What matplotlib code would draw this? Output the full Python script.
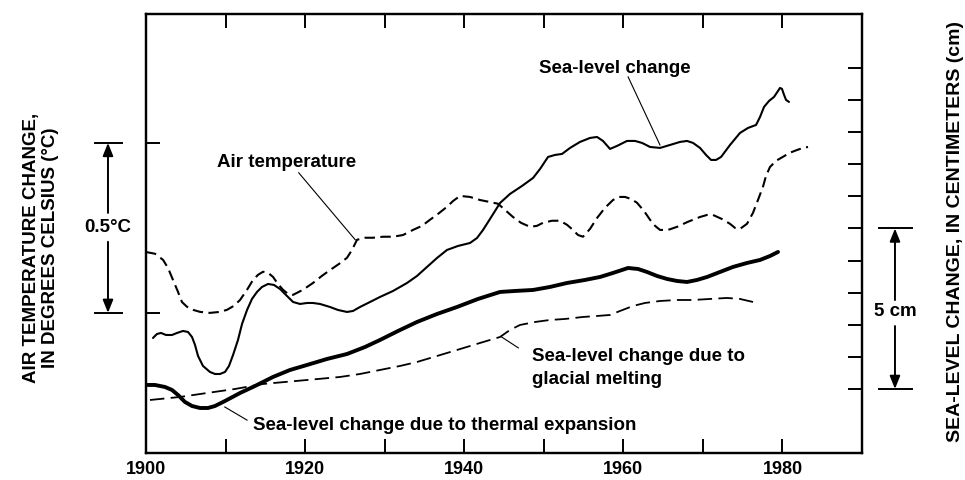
import matplotlib
matplotlib.use("Agg")
import matplotlib.pyplot as plt
from matplotlib.ticker import FixedLocator, NullFormatter

plt.rcParams['font.family'] = ['Liberation Sans', 'DejaVu Sans']
plt.rcParams['font.weight'] = 'bold'

# ---- data ----
sea_level_years = [1900.88, 1901.38, 1901.89, 1902.51, 1903.27, 1903.90, 1904.65, 1905.28, 1905.78,
                   1906.16, 1906.54, 1907.16, 1908.04, 1908.67, 1909.30, 1909.93, 1910.43, 1910.94,
                   1911.56, 1912.07, 1912.70, 1913.32, 1913.95, 1914.58, 1915.34, 1916.09, 1916.84,
                   1917.72, 1918.48, 1919.36, 1920.24, 1920.99, 1921.87, 1923.13, 1924.13, 1925.27,
                   1926.02, 1926.90, 1928.16, 1929.41, 1931.05, 1932.81, 1934.06, 1935.32, 1936.58,
                   1937.83, 1939.22, 1940.73, 1941.61, 1942.36, 1943.24, 1944.50, 1945.75, 1947.26,
                   1948.65, 1949.53, 1950.53, 1951.41, 1952.29, 1953.30, 1954.55, 1955.81, 1956.69,
                   1957.44, 1958.32, 1959.20, 1960.46, 1961.47, 1962.35, 1963.35, 1964.61, 1965.87,
                   1967.12, 1968.00, 1968.76, 1969.64, 1970.39, 1971.02, 1971.65, 1972.28, 1973.41,
                   1974.66, 1975.67, 1976.68, 1977.18, 1977.68, 1978.31, 1978.94, 1979.44, 1979.69,
                   1979.94, 1980.20, 1980.45, 1980.82]
sea_level_cm = [1.589, 1.713, 1.745, 1.682, 1.682, 1.745, 1.807, 1.776, 1.620,
                1.371, 1.028, 0.717, 0.530, 0.467, 0.467, 0.530, 0.717, 1.059,
                1.526, 2.025, 2.461, 2.804, 3.022, 3.178, 3.271, 3.240, 3.115,
                2.897, 2.710, 2.648, 2.679, 2.679, 2.648, 2.554, 2.461, 2.399,
                2.430, 2.554, 2.710, 2.866, 3.053, 3.302, 3.520, 3.801, 4.081,
                4.330, 4.455, 4.548, 4.704, 4.953, 5.296, 5.794, 6.075, 6.324,
                6.573, 6.854, 7.227, 7.290, 7.321, 7.508, 7.695, 7.819, 7.850,
                7.726, 7.477, 7.570, 7.726, 7.726, 7.664, 7.539, 7.508, 7.601,
                7.695, 7.726, 7.664, 7.508, 7.290, 7.134, 7.134, 7.227, 7.601,
                7.975, 8.131, 8.224, 8.474, 8.785, 8.972, 9.097, 9.284, 9.377,
                9.346, 9.159, 9.003, 8.941]

thermal_years = [1900.00, 1901.13, 1902.39, 1903.27, 1904.02, 1904.90, 1905.78, 1906.79, 1907.79,
                 1908.67, 1909.93, 1911.82, 1913.70, 1915.96, 1918.10, 1920.24, 1922.75, 1925.27,
                 1927.53, 1929.41, 1931.68, 1934.06, 1936.58, 1939.09, 1941.73, 1944.50, 1946.38,
                 1948.65, 1950.78, 1952.92, 1955.18, 1957.07, 1958.70, 1960.59, 1961.84, 1962.97,
                 1964.23, 1965.49, 1966.75, 1968.00, 1969.26, 1970.52, 1972.15, 1973.78, 1975.54,
                 1977.18, 1978.44, 1979.44]
thermal_cm = [0.125, 0.125, 0.062, -0.031, -0.187, -0.405, -0.530, -0.592, -0.592,
              -0.530, -0.374, -0.125, 0.093, 0.374, 0.592, 0.748, 0.935, 1.090,
              1.308, 1.526, 1.807, 2.087, 2.336, 2.554, 2.804, 3.022, 3.053,
              3.084, 3.178, 3.302, 3.396, 3.489, 3.614, 3.769, 3.738, 3.645,
              3.520, 3.427, 3.364, 3.333, 3.396, 3.489, 3.645, 3.801, 3.925,
              4.019, 4.143, 4.268]

glacial_years = [1900.50, 1904.27, 1907.67, 1911.19, 1914.71, 1917.47, 1920.24, 1924.39, 1926.90,
                 1929.41, 1931.93, 1934.06, 1936.58, 1939.09, 1941.98, 1944.50, 1945.75, 1947.01,
                 1948.90, 1950.78, 1952.67, 1954.93, 1956.69, 1958.32, 1959.58, 1961.22, 1962.72,
                 1964.61, 1966.75, 1968.76, 1970.89, 1973.03, 1974.66, 1976.30]
glacial_cm = [-0.343, -0.249, -0.125, 0.000, 0.156, 0.218, 0.280, 0.374, 0.467,
              0.592, 0.717, 0.841, 1.028, 1.215, 1.433, 1.620, 1.838, 1.994,
              2.087, 2.150, 2.181, 2.243, 2.274, 2.305, 2.430, 2.586, 2.679,
              2.741, 2.772, 2.772, 2.804, 2.835, 2.804, 2.710]

air_temp_years = [1900.00, 1901.13, 1902.14, 1902.77, 1903.39, 1904.02, 1904.52, 1905.15, 1905.91,
                  1906.79, 1908.04, 1909.30, 1910.18, 1911.06, 1911.82, 1912.70, 1913.45, 1914.08,
                  1914.71, 1915.33, 1915.96, 1916.59, 1917.22, 1917.85, 1918.48, 1919.73, 1920.99,
                  1922.12, 1923.13, 1924.26, 1925.26, 1925.89, 1926.52, 1927.53, 1928.53, 1929.79,
                  1931.05, 1932.30, 1933.56, 1934.69, 1935.70, 1936.70, 1937.83, 1938.59, 1939.47,
                  1940.72, 1941.98, 1943.24, 1944.24, 1945.12, 1946.13, 1947.13, 1948.27, 1949.14,
                  1949.90, 1951.03, 1952.04, 1952.92, 1953.67, 1954.30, 1954.93, 1955.81, 1956.69,
                  1957.69, 1958.70, 1959.45, 1960.21, 1960.96, 1961.71, 1962.59, 1963.35, 1963.98,
                  1964.61, 1965.61, 1966.74, 1968.12, 1969.63, 1970.51, 1971.27, 1972.40, 1973.40,
                  1974.03, 1974.66, 1975.54, 1976.29, 1976.92, 1977.55, 1977.93, 1978.43, 1979.18,
                  1980.06, 1980.94, 1981.82, 1982.58, 1983.21]
air_temp_c = [0.179, 0.174, 0.156, 0.132, 0.097, 0.062, 0.032, 0.018, 0.009,
              0.003, 0.000, 0.003, 0.009, 0.021, 0.038, 0.068, 0.097, 0.112,
              0.121, 0.118, 0.106, 0.085, 0.068, 0.056, 0.053, 0.068, 0.088,
              0.109, 0.126, 0.144, 0.162, 0.185, 0.215, 0.221, 0.221, 0.224,
              0.224, 0.229, 0.244, 0.256, 0.274, 0.291, 0.312, 0.329, 0.344,
              0.341, 0.332, 0.326, 0.321, 0.303, 0.282, 0.265, 0.253, 0.256,
              0.265, 0.271, 0.271, 0.259, 0.244, 0.229, 0.224, 0.247, 0.279,
              0.309, 0.332, 0.341, 0.341, 0.335, 0.324, 0.300, 0.274, 0.256,
              0.244, 0.244, 0.253, 0.268, 0.282, 0.288, 0.288, 0.276, 0.262,
              0.250, 0.247, 0.262, 0.294, 0.332, 0.371, 0.403, 0.429, 0.447,
              0.459, 0.471, 0.479, 0.485, 0.488]

year_labels = [1900, 1920, 1940, 1960, 1980]
year_minor = [1910, 1930, 1950, 1970]
temp_ticks = [0.0, 0.5]
sea_ticks = list(range(0, 11))

# ---- figure ----
fig = plt.figure(figsize=(9.65, 4.8), dpi=100)
ax = fig.add_axes([0.1513, 0.05625, 0.742, 0.9146])
ax2 = ax.twinx()

ax.set_xlim(1900, 1990)
ax.set_ylim(-0.412, 0.879)
ax2.set_ylim(-1.994, 11.68)

line_kw = dict(color='black', solid_joinstyle='round', solid_capstyle='round',
               dash_joinstyle='round')
ax.plot(air_temp_years, air_temp_c, lw=1.5, ls=(0, (5, 2.6)), **line_kw)
ax2.plot(sea_level_years, sea_level_cm, lw=1.5, **line_kw)
ax2.plot(thermal_years, thermal_cm, lw=2.8, **line_kw)
ax2.plot(glacial_years, glacial_cm, lw=1.3, ls=(0, (8, 3.5)), **line_kw)

# ticks
for a in (ax, ax2):
    for s in a.spines.values():
        s.set_linewidth(1.6)
ax.xaxis.set_major_locator(FixedLocator(year_labels))
ax.xaxis.set_minor_locator(FixedLocator(year_minor))
ax.set_xticklabels([str(y) for y in year_labels], fontsize=13, fontweight='bold')
ax.tick_params(axis='x', which='both', direction='in', length=10, width=1.4,
               top=True, bottom=True, pad=6)
ax.set_yticks(temp_ticks)
ax.yaxis.set_major_formatter(NullFormatter())
ax.tick_params(axis='y', direction='in', length=10, width=1.4, left=True, right=False)
ax2.set_yticks(sea_ticks)
ax2.yaxis.set_major_formatter(NullFormatter())
ax2.tick_params(axis='y', direction='in', length=10, width=1.4, right=True, left=False)

fs = 13.5

# annotations on curves
ax.text(1908.9, 0.430, 'Air temperature', fontsize=fs, fontweight='bold', ha='left', va='baseline')
ax.plot([1919.2, 1926.3], [0.412, 0.215], color='black', lw=0.8)

ax2.text(1949.4, 9.85, 'Sea-level change', fontsize=fs, fontweight='bold', ha='left', va='baseline')
ax2.plot([1960.6, 1964.6], [9.72, 7.60], color='black', lw=0.8)

ax2.text(1913.45, -1.28, 'Sea-level change due to thermal expansion', fontsize=fs,
         fontweight='bold', ha='left', va='baseline')
ax2.plot([1909.9, 1912.7], [-0.56, -0.97], color='black', lw=0.8)

ax2.text(1948.5, 0.88, 'Sea-level change due to', fontsize=fs, fontweight='bold',
         ha='left', va='baseline')
ax2.text(1948.5, 0.156, 'glacial melting', fontsize=fs, fontweight='bold',
         ha='left', va='baseline')
ax2.plot([1944.7, 1946.8], [1.62, 1.28], color='black', lw=0.8)

# scale bars / arrows outside the axes
tl = ax.get_yaxis_transform()
arrow_kw = dict(arrowstyle='-|>,head_length=0.55,head_width=0.22', color='black',
                lw=1.4, shrinkA=0, shrinkB=0, mutation_scale=14)
xl = -0.0531
ax.plot([-0.0712, -0.0335], [0.5, 0.5], transform=tl, color='black', lw=1.4, clip_on=False)
ax.plot([-0.0712, -0.0335], [0.0, 0.0], transform=tl, color='black', lw=1.4, clip_on=False)
ax.annotate('', xy=(xl, 0.5), xytext=(xl, 0.294), xycoords=tl, textcoords=tl,
            arrowprops=arrow_kw, annotation_clip=False)
ax.annotate('', xy=(xl, 0.0), xytext=(xl, 0.209), xycoords=tl, textcoords=tl,
            arrowprops=arrow_kw, annotation_clip=False)
ax.text(xl, 0.25, '0.5°C', transform=tl, fontsize=fs, fontweight='bold',
        ha='center', va='center', clip_on=False)

tr = ax2.get_yaxis_transform()
xr = 1.046
ax2.plot([1.0237, 1.0698], [5, 5], transform=tr, color='black', lw=1.4, clip_on=False)
ax2.plot([1.0237, 1.0698], [0, 0], transform=tr, color='black', lw=1.4, clip_on=False)
ax2.annotate('', xy=(xr, 5), xytext=(xr, 2.77), xycoords=tr, textcoords=tr,
             arrowprops=arrow_kw, annotation_clip=False)
ax2.annotate('', xy=(xr, 0), xytext=(xr, 1.96), xycoords=tr, textcoords=tr,
             arrowprops=arrow_kw, annotation_clip=False)
ax2.text(xr, 2.4, '5 cm', transform=tr, fontsize=fs, fontweight='bold',
         ha='center', va='center', clip_on=False)

# axis titles
fig.text(32 / 965, 1 - 248 / 480, 'AIR TEMPERATURE CHANGE,', rotation=90, fontsize=13.5,
         fontweight='bold', ha='center', va='center')
fig.text(51 / 965, 1 - 248 / 480, 'IN DEGREES CELSIUS (°C)', rotation=90, fontsize=13.5,
         fontweight='bold', ha='center', va='center')
fig.text(955 / 965, 1 - 231 / 480, 'SEA-LEVEL CHANGE, IN CENTIMETERS (cm)', rotation=90,
         fontsize=14, fontweight='bold', ha='center', va='center')

fig.savefig('out.png', dpi=100)
